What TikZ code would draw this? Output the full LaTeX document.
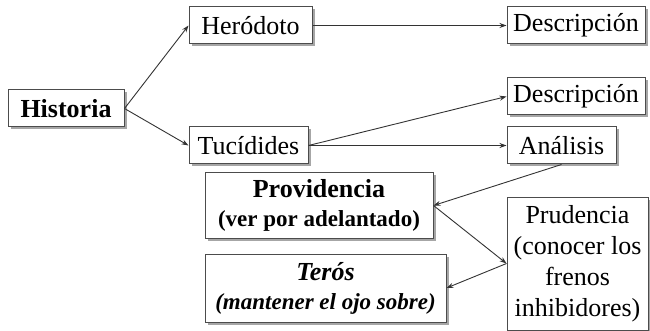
\documentclass[tikz,border=0pt]{standalone}
\usepackage{fontspec}
\setmainfont{Liberation Serif}
\usetikzlibrary{arrows.meta,shadows}
\tikzset{
  box/.style={draw=black!70, line width=1pt, fill=white, rectangle, inner sep=0pt, align=center,
    font=\fontsize{26}{31}\selectfont,
    drop shadow={shadow xshift=2.5pt, shadow yshift=-2.5pt, fill=black!35, opacity=1}},
  conn/.style={draw=black!80, line width=0.9pt, -{Stealth[length=7pt,width=5pt]}},
  small/.style={font=\fontsize{23}{28}\selectfont}
}
\begin{document}
\begin{tikzpicture}[x=1pt,y=-1pt]
\useasboundingbox (0,0) rectangle (650,331);
\node[box, minimum width=116pt, minimum height=37pt] (hist) at (66,108.5) {\textbf{Historia}};
\node[box, minimum width=123pt, minimum height=37pt] (hero) at (250.5,25.5) {Heródoto};
\node[box, minimum width=119pt, minimum height=37pt] (tuc) at (248.5,145.5) {Tucídides};
\node[box, minimum width=138pt, minimum height=37pt] (desc1) at (576,25.5) {Descripción};
\node[box, minimum width=138pt, minimum height=37pt] (desc2) at (576,96.5) {Descripción};
\node[box, minimum width=109pt, minimum height=37pt] (ana) at (561.5,145.5) {Análisis};
\node[box, minimum width=228pt, minimum height=65pt] (prov) at (319,205.5)
  {\textbf{Providencia}\\[-2pt]{\fontsize{23}{28}\selectfont\textbf{(ver por adelantado)}}};
\node[box, minimum width=241pt, minimum height=68pt] (teros) at (325.5,288)
  {\textbf{\textit{Terós}}\\[-2pt]{\fontsize{23}{28}\selectfont\textbf{\textit{(mantener el ojo sobre)}}}};
\node[box, minimum width=141pt, minimum height=133pt] (prud) at (577.5,263.5)
  {Prudencia\\(conocer los\\frenos\\inhibidores)};
\draw[conn] (hist.east) -- (hero.west);
\draw[conn] (hist.east) -- (tuc.west);
\draw[conn] (hero.east) -- (desc1.west);
\draw[conn] (tuc.east) -- (desc2.west);
\draw[conn] (tuc.east) -- (ana.west);
\draw[conn] (ana.south) -- (prov.east);
\draw[conn] (prov.east) -- (prud.west);
\draw[conn] (prud.west) -- (teros.east);
\end{tikzpicture}
\end{document}
